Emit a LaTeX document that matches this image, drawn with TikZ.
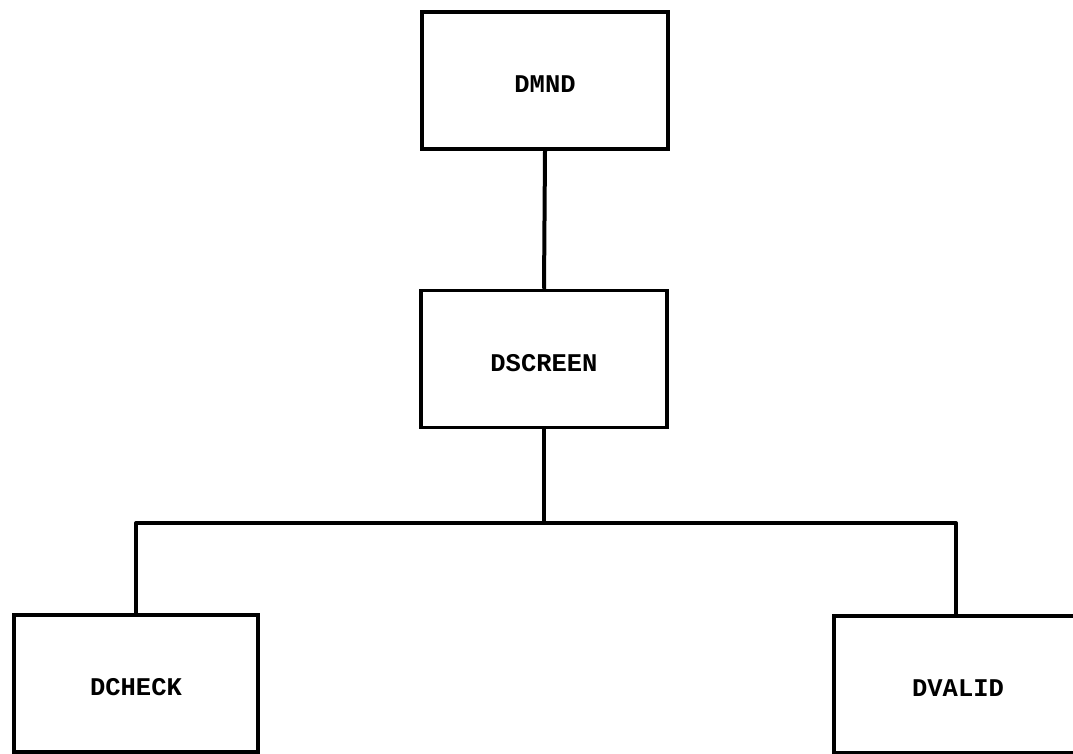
\documentclass[tikz,border=0pt]{standalone}
\usepackage{fontspec}
\newfontfamily\typefont{Liberation Mono}
\begin{document}
\begin{tikzpicture}[x=1pt,y=-1pt,
  module/.style={draw=black, line width=3.5pt, fill=white, inner sep=0pt,
    minimum width=246pt, minimum height=137pt, text height=24pt, text depth=0pt,
    font=\typefont\bfseries\fontsize{25.5}{25.5}\selectfont},
  link/.style={draw=black, line width=4pt, line join=round}]
\useasboundingbox (0,0) rectangle (1073,753);
\clip (0,0) rectangle (1073,753);
\node[module] (dmnd) at (545,80.5) {DMND};
\node[module] (dscreen) at (544,359) {DSCREEN};
\node[module, minimum width=244pt] (dcheck) at (136,683.5) {DCHECK};
\node[module, minimum width=244pt] (dvalid) at (956,684.5) {\hspace*{4pt}DVALID};
\coordinate (bus) at (544,523);
\draw[link] (dmnd.south) -- (dscreen.north);
\draw[link] (dscreen.south) -- (bus);
\draw[link] (dcheck.north) |- (bus) -| (dvalid.north);
\end{tikzpicture}
\end{document}
